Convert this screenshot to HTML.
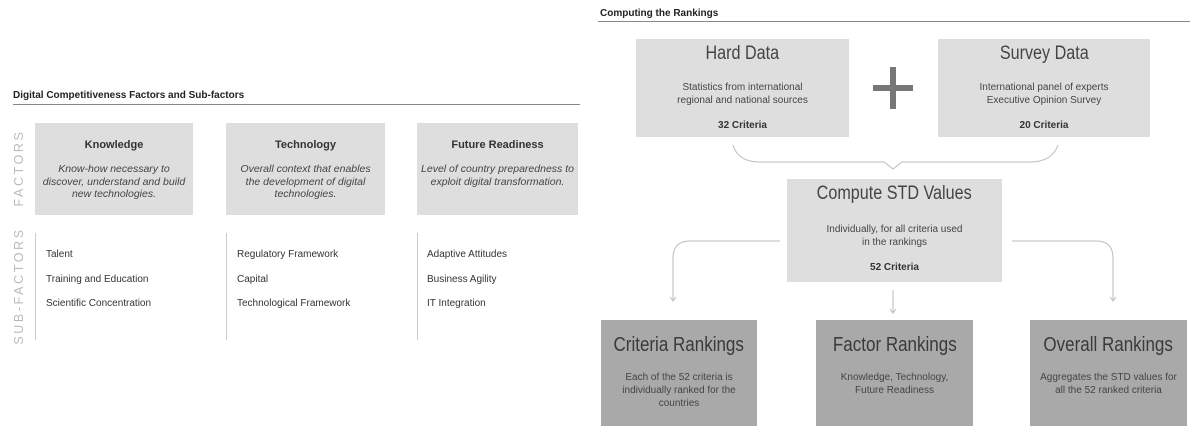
<!DOCTYPE html>
<html><head><style>
body{margin:0;width:1195px;height:436px;background:#fff;position:relative;overflow:hidden;font-family:"Liberation Sans",sans-serif;color:#333}
.a{position:absolute}
.h{font-size:10px;font-weight:bold;color:#222}
.box{position:absolute;background:#dedede;text-align:center;box-sizing:border-box}
.fb{font-size:11px;font-weight:bold;color:#333;margin-top:16px}
.fi{font-size:10.5px;font-style:italic;color:#444;line-height:12.5px;margin-top:12px}
.sf{position:absolute;font-size:10px;color:#333}
.vl{position:absolute;width:1px;background:#ccc}
.vt{position:absolute;transform:rotate(-90deg);transform-origin:center;font-size:12.5px;letter-spacing:2.6px;color:#bbb;white-space:nowrap;text-align:center;height:14px;line-height:14px}
.t1{font-size:19px;color:#444;margin-top:4px;white-space:nowrap}
.t1 span,.t2 span{display:inline-block;transform:scaleX(0.85)}
.d{font-size:10px;color:#444;line-height:13px}
.c{font-size:10px;font-weight:bold;color:#333}
.dk{background:#a9a9a9}
.t2{font-size:20px;color:#3a3a3a;margin-top:14px;white-space:nowrap}
</style></head><body>
<div class="a h" style="left:13px;top:90px">Digital Competitiveness Factors and Sub-factors</div>
<div class="a" style="left:13px;top:104px;width:567px;height:1px;background:#888"></div>
<div class="vt" style="left:-26px;top:161px;width:90px">FACTORS</div>
<div class="vt" style="left:-41px;top:279px;width:120px">SUB-FACTORS</div>
<div class="box" style="left:35px;top:123px;width:158px;height:92px"><div class="fb">Knowledge</div><div class="fi">Know-how necessary to<br>discover, understand and build<br>new technologies.</div></div>
<div class="box" style="left:226px;top:123px;width:159px;height:92px"><div class="fb">Technology</div><div class="fi">Overall context that enables<br>the development of digital<br>technologies.</div></div>
<div class="box" style="left:417px;top:123px;width:161px;height:92px"><div class="fb">Future Readiness</div><div class="fi">Level of country preparedness to<br>exploit digital transformation.</div></div>
<div class="vl" style="left:35px;top:233px;height:107px"></div>
<div class="vl" style="left:226px;top:233px;height:107px"></div>
<div class="vl" style="left:417px;top:233px;height:107px"></div>
<div class="sf" style="left:46px;top:249px">Talent</div>
<div class="sf" style="left:46px;top:274px">Training and Education</div>
<div class="sf" style="left:46px;top:298px">Scientific Concentration</div>
<div class="sf" style="left:237px;top:249px">Regulatory Framework</div>
<div class="sf" style="left:237px;top:274px">Capital</div>
<div class="sf" style="left:237px;top:298px">Technological Framework</div>
<div class="sf" style="left:427px;top:249px">Adaptive Attitudes</div>
<div class="sf" style="left:427px;top:274px">Business Agility</div>
<div class="sf" style="left:427px;top:298px">IT Integration</div>

<div class="a h" style="left:600px;top:8px">Computing the Rankings</div>
<div class="a" style="left:598px;top:21px;width:592px;height:1px;background:#888"></div>
<div class="box" style="left:636px;top:39px;width:213px;height:98px"><div class="t1"><span>Hard Data</span></div><div class="d" style="margin-top:16px">Statistics from international<br>regional and national sources</div><div class="c" style="margin-top:13px">32 Criteria</div></div>
<div class="box" style="left:938px;top:39px;width:212px;height:98px"><div class="t1"><span>Survey Data</span></div><div class="d" style="margin-top:16px">International panel of experts<br>Executive Opinion Survey</div><div class="c" style="margin-top:13px">20 Criteria</div></div>
<div class="a" style="left:873px;top:85px;width:40px;height:6px;background:#777"></div>
<div class="a" style="left:890px;top:67px;width:6px;height:42px;background:#777"></div>
<div class="box" style="left:787px;top:179px;width:215px;height:103px"><div class="t1"><span>Compute STD Values</span></div><div class="d" style="margin-top:18px">Individually, for all criteria used<br>in the rankings</div><div class="c" style="margin-top:13px">52 Criteria</div></div>
<svg class="a" style="left:0;top:0" width="1195" height="436">
<g fill="none" stroke="#bbb" stroke-width="1">
<path d="M733 145 Q738 162 760 162 L884 162 L893 169 L902 162 L1030 162 Q1052 162 1058 145"/>
<path d="M780 241 L690 241 Q673 241 673 258 L673 300"/>
<path d="M1012 241 L1096 241 Q1113 241 1113 258 L1113 300"/>
<path d="M893 290 L893 312"/>
<path d="M670 297 L673 301 L676 297"/>
<path d="M1110 297 L1113 301 L1116 297"/>
<path d="M890 309 L893 313 L896 309"/>
</g></svg>
<div class="box dk" style="left:601px;top:320px;width:156px;height:106px"><div class="t2"><span>Criteria Rankings</span></div><div class="d" style="margin-top:14px">Each of the 52 criteria is<br>individually ranked for the<br>countries</div></div>
<div class="box dk" style="left:816px;top:320px;width:157px;height:106px"><div class="t2"><span>Factor Rankings</span></div><div class="d" style="margin-top:14px">Knowledge, Technology,<br>Future Readiness</div></div>
<div class="box dk" style="left:1030px;top:320px;width:157px;height:106px"><div class="t2"><span>Overall Rankings</span></div><div class="d" style="margin-top:14px">Aggregates the STD values for<br>all the 52 ranked criteria</div></div>
</body></html>
